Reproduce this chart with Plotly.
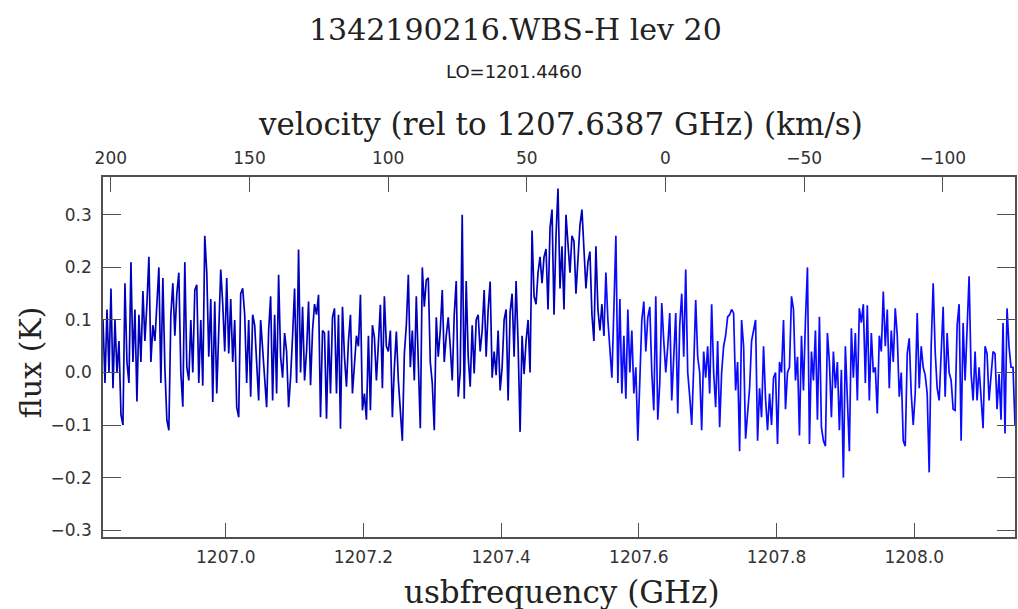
import numpy as np
import plotly.graph_objects as go

# ---------------- data ----------------
FREQ_FIRST = 1206.8217   # GHz, first channel
FREQ_LAST = 1208.1464    # GHz, last channel
REST_FREQ = 1207.6387    # GHz
LO_FREQ = "1201.4460"
SPLIT_FREQ = 1207.549    # where the second sub-band colour takes over

flux_a = [0.10, -0.02, 0.12, 0.0, 0.16, -0.03, 0.10, 0.0, 0.06, -0.08,
          -0.10, 0.17, 0.02, -0.02, 0.21, 0.02, 0.12, -0.055, 0.11, 0.02,
          0.155, 0.06, 0.13, 0.22, 0.02, 0.09, 0.06, 0.14, 0.20, -0.02,
          0.18, 0.01, -0.09, -0.11, 0.11, 0.17, 0.07, 0.15, 0.19, 0.0,
          -0.065, 0.21, 0.01, -0.015, 0.10, 0.0]
flux_b = [0.157, 0.167, -0.02, 0.10, -0.025, 0.26, 0.19, 0.03, 0.14, -0.056,
          0.135, -0.04, 0.10, 0.196, 0.13, 0.04, 0.18, 0.036, 0.14, 0.02,
          0.10, -0.066, -0.085, 0.15, 0.16, 0.11, -0.02, 0.10, -0.046, 0.11,
          0.09, 0.01, -0.053, 0.10, 0.05, -0.015, -0.066, 0.08, 0.145, -0.053,
          0.11, -0.04, 0.186, 0.03, -0.01]
flux_c = [0.075, 0.04, -0.066, -0.01, 0.07, 0.16, -0.02, 0.234, 0.0, 0.125,
          -0.015, 0.04, 0.135, -0.024, 0.08, 0.13, 0.11, 0.148, -0.085, 0.08,
          0.075, -0.088, 0.08, -0.04, 0.105, 0.122, -0.04, 0.11, -0.107, 0.125,
          0.03, -0.027, 0.06, 0.11, -0.04, 0.01, 0.07, 0.05, 0.148, -0.072,
          -0.04, -0.09, 0.07, -0.072, 0.09]
flux_d = [0.067, -0.015, 0.055, 0.129, -0.03, 0.145, 0.05, 0.04, 0.08, -0.085,
          0.01, 0.078, -0.015, -0.075, -0.13, 0.035, 0.09, 0.186, 0.01, 0.08,
          -0.015, 0.145, -0.002, -0.106, 0.20, 0.125, 0.176, 0.18, 0.02, -0.02,
          -0.11, 0.105, 0.03, 0.08, 0.157, 0.02, 0.07, 0.105, 0.05, -0.015,
          0.11, 0.174, -0.046, 0.0, 0.30]
flux_e = [-0.05, 0.174, 0.03, -0.027, 0.09, -0.002, 0.10, 0.11, 0.04, 0.08,
          0.157, 0.03, 0.12, 0.173, -0.01, 0.04, -0.005, 0.08, -0.034, 0.01,
          0.10, 0.12, -0.053, 0.115, 0.15, 0.03, 0.174, 0.055, -0.113, 0.07,
          -0.003, 0.06, 0.10, 0.0, 0.27, 0.145, 0.13, 0.19, 0.22, 0.17,
          0.22, 0.235, 0.12, 0.275, 0.31]
flux_f = [0.11, 0.26, 0.35, 0.16, 0.24, 0.12, 0.30, 0.24, 0.19, 0.26,
          0.25, 0.15, 0.22, 0.28, 0.31, 0.22, 0.16, 0.21, 0.23, 0.11,
          0.06, 0.24, 0.12, 0.08, 0.13, 0.07, 0.19, 0.10, 0.05, -0.01,
          0.12, 0.26, -0.02, 0.14, -0.04, 0.07, -0.05, 0.12, 0.0, 0.08,
          -0.04, 0.01, -0.13, 0.0, 0.10]
flux_g = [0.135, 0.04, 0.105, 0.125, 0.0, -0.072, 0.145, -0.09, -0.02, 0.132,
          0.06, 0.0, 0.05, 0.113, -0.053, 0.04, 0.113, -0.078, 0.09, 0.15,
          0.03, 0.196, 0.0, -0.045, -0.10, 0.01, 0.138, 0.03, 0.0, -0.11,
          0.04, -0.01, 0.05, -0.04, 0.13, 0.0, -0.066, 0.06, -0.104, 0.0,
          0.05, 0.07, 0.106, 0.11, 0.12]
flux_h = [0.113, -0.034, 0.02, -0.15, 0.10, 0.05, -0.126, -0.08, -0.03, 0.06,
          0.08, 0.10, -0.13, -0.03, -0.085, 0.05, -0.05, -0.11, -0.04, -0.10,
          -0.01, 0.0, -0.136, 0.02, 0.0, 0.10, -0.07, 0.0, 0.01, 0.145,
          0.12, -0.015, 0.03, -0.12, 0.07, -0.034, 0.10, 0.20, -0.136, 0.04,
          -0.015, 0.08, -0.09, 0.106, -0.104]
flux_i = [-0.13, -0.14, 0.075, 0.02, -0.085, 0.04, -0.03, 0.02, -0.11, 0.005,
          -0.20, 0.05, -0.04, -0.15, 0.084, -0.01, 0.075, -0.053, 0.122, 0.095,
          0.13, -0.02, 0.128, -0.053, 0.075, 0.0, 0.01, -0.078, 0.07, 0.04,
          0.154, 0.05, 0.12, -0.03, 0.08, 0.02, 0.122, 0.07, -0.046, 0.0,
          -0.13, -0.14, 0.036, 0.065, -0.04]
flux_j = [-0.10, -0.04, 0.113, -0.03, 0.05, 0.01, -0.005, -0.04, -0.19, 0.05,
          0.17, 0.04, -0.03, -0.053, 0.03, 0.125, -0.046, 0.075, 0.0, -0.015,
          -0.07, -0.072, 0.09, 0.13, -0.13, 0.094, -0.015, 0.07, 0.183, -0.002,
          -0.053, 0.04, -0.053, 0.01, -0.047, -0.106, 0.05, 0.036, -0.053, 0.0,
          0.04, 0.036, -0.07, -0.003, -0.09, 0.094, -0.116, 0.122, 0.05, 0.01,
          0.01, -0.10]

freq_ticks = [1207.0, 1207.2, 1207.4, 1207.6, 1207.8, 1208.0]
flux_ticks = [-0.3, -0.2, -0.1, 0.0, 0.1, 0.2, 0.3]
vel_ticks = [200, 150, 100, 50, 0, -50, -100]

# ---------------- build ----------------
flux = np.array(flux_a + flux_b + flux_c + flux_d + flux_e +
                flux_f + flux_g + flux_h + flux_i + flux_j)
freq = np.linspace(FREQ_FIRST, FREQ_LAST, len(flux))
C_KMS = 299792.458
vel_range = [C_KMS * (REST_FREQ - FREQ_FIRST) / REST_FREQ,
             C_KMS * (REST_FREQ - FREQ_LAST) / REST_FREQ]

k = int(np.searchsorted(freq, SPLIT_FREQ))

fig = go.Figure()
fig.add_trace(go.Scatter(x=freq[:k + 1], y=flux[:k + 1], mode="lines",
                         line=dict(color="#0000bb", width=1.7),
                         showlegend=False, hoverinfo="skip"))
fig.add_trace(go.Scatter(x=freq[k:], y=flux[k:], mode="lines",
                         line=dict(color="#0a0aff", width=1.7),
                         showlegend=False, hoverinfo="skip"))
# invisible trace to activate top velocity axis
fig.add_trace(go.Scatter(x=vel_range, y=[None, None], xaxis="x2",
                         mode="lines", showlegend=False, hoverinfo="skip"))

W, H = 1018, 609
L, R, T, B = 103, 1017, 177, 537
axcol = "#505050"
tickfont = dict(family="DejaVu Sans", size=17, color="#333333")
serif = "DejaVu Serif"

fig.update_layout(
    width=W, height=H,
    margin=dict(l=L, r=W - R, t=T, b=H - B, pad=0),
    paper_bgcolor="white", plot_bgcolor="white",
    xaxis=dict(range=[FREQ_FIRST, FREQ_LAST], tickvals=freq_ticks,
               tickformat=".1f", ticks="inside", ticklen=14, tickwidth=1.2,
               tickcolor=axcol, showline=True, linecolor=axcol, linewidth=1.5,
               showgrid=False, zeroline=False, tickfont=tickfont,
               ticklabelstandoff=4),
    xaxis2=dict(range=vel_range, overlaying="x", side="top", anchor="y",
                tickvals=vel_ticks, ticks="inside", ticklen=15, tickwidth=1.2,
                tickcolor=axcol, showline=True, linecolor=axcol, linewidth=1.5,
                showgrid=False, zeroline=False, tickfont=tickfont,
                ticklabelstandoff=4),
    yaxis=dict(range=[-0.313, 0.372], tickvals=flux_ticks, tickformat=".1f",
               ticks="inside", ticklen=18, tickwidth=1.2, tickcolor=axcol,
               showline=True, linecolor=axcol, linewidth=1.5, mirror="ticks",
               showgrid=False, zeroline=False, tickfont=tickfont,
               ticklabelstandoff=6),
)

def px(x):
    return (x - L) / (R - L)

def py(y):
    return (B - y) / (B - T)

ann = [
    dict(text="1342190216.WBS-H lev 20", x=px(516), y=py(30),
         font=dict(family=serif, size=30, color="#222222")),
    dict(text="LO=" + LO_FREQ, x=px(515), y=py(72),
         font=dict(family="DejaVu Sans", size=18, color="#222222")),
    dict(text="velocity (rel to 1207.6387 GHz) (km/s)", x=px(562), y=py(124),
         font=dict(family=serif, size=31, color="#222222")),
    dict(text="usbfrequency (GHz)", x=px(563), y=py(592),
         font=dict(family=serif, size=31, color="#222222")),
    dict(text="flux (K)", x=px(30), y=py(362), textangle=-90,
         font=dict(family=serif, size=30, color="#222222")),
]
for a in ann:
    a.update(xref="paper", yref="paper", showarrow=False,
             xanchor="center", yanchor="middle")
fig.update_layout(annotations=ann)

fig.write_html("out.html")
